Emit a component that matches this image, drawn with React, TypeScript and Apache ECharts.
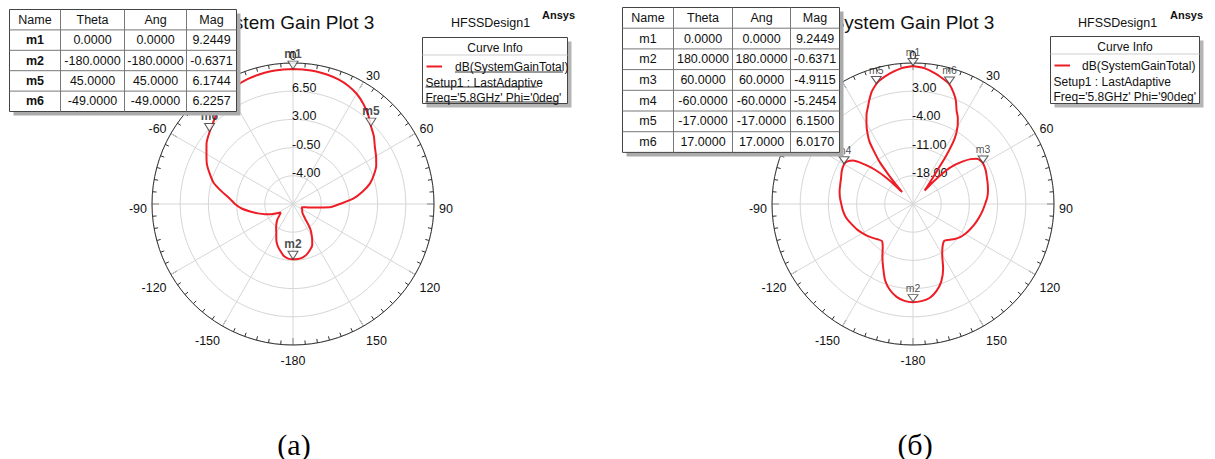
import { useEffect, useRef } from 'react';
import * as echarts from 'echarts';

const FONT = '"Liberation Sans", Arial, sans-serif';

// ---------- Plot (а): Phi = 0deg ----------
const thetaA = [
  -180, -175, -170, -165, -160, -155, -150, -145, -140, -135, -130, -125, -120, -115, -110, -105, -100, -95,
  -90, -85, -80, -75, -70, -65, -60, -55, -50, -45, -40, -35, -30, -25, -20, -15, -10, -5,
  0, 5, 10, 15, 20, 25, 30, 35, 40, 45, 50, 55, 60, 65, 70, 75, 80, 85,
  90, 95, 100, 105, 110, 115, 120, 125, 130, 135, 140, 145, 150, 155, 160, 165, 170, 175,
];
const gainA = [
  -0.637, -0.7, -0.95, -1.45, -1.95, -2.6, -3.35, -3.85, -4.3, -4.75, -5.3, -5.65, -5.2, -4.5, -3.8, -3.0, -2.1, -1.1,
  -0.3, 0.4, 1.5, 2.7, 3.5, 4.3, 4.9, 5.6, 6.1, 6.6, 7.2, 7.8, 8.4, 8.8, 9.0, 9.1, 9.2, 9.23,
  9.2449, 9.23, 9.2, 9.1, 8.95, 8.7, 8.3, 7.7, 7.0, 6.1744, 5.6, 4.9, 4.4, 3.9, 3.2, 2.4, 1.25, 0.0,
  -1.7, -2.9, -5.0, -5.9, -6.3, -6.3, -6.2, -6.1, -6.0, -5.8, -5.2, -3.8, -2.8, -1.85, -1.4, -1.0, -0.75, -0.65,
];
const markNamesA = ['m1', 'm2', 'm5', 'm6'];
const markThetaA = [0, -180, 45, -49];
const markMagA = [9.2449, -0.6371, 6.1744, 6.2257];

// ---------- Plot (б): Phi = 90deg ----------
const thetaB = [
  -180, -175, -170, -165, -160, -155, -150, -145, -140, -135, -130, -125, -120, -115, -110, -105, -100, -95,
  -90, -85, -80, -75, -70, -65, -60, -57, -54, -52, -50, -48, -46, -44, -42.5, -41, -40, -38.5,
  -37, -35, -32.5, -30, -27.5, -25, -22.5, -20, -17, -15, -10, -5,
  0, 5, 10, 15, 17, 20, 22.5, 25, 27.5, 30, 32.5, 34.5, 36, 38, 40, 41, 42.3, 44.7, 47, 49.5, 52, 54.5, 57,
  60, 65, 70, 75, 80, 85, 90, 95, 100, 105, 110, 115, 120, 125, 130, 135, 140, 145, 150, 155, 160, 165, 170, 175,
];
const gainB = [
  -0.637, -0.85, -1.6, -2.9, -4.8, -7.5, -9.8, -11.9, -13.0, -12.6, -11.9, -11.2, -10.5, -9.8, -9.2, -8.5, -7.9, -7.5,
  -7.2, -6.8, -6.5, -6.3, -6.0, -5.5, -5.2454, -5.6, -6.6, -8.2, -10.2, -12.3, -15.0, -18.5, -21.0, -18.0, -15.8, -11.8,
  -9.5, -6.2, -3.9, -1.9, 0.0, 1.5, 3.2, 4.8, 6.15, 6.8, 7.9, 8.8,
  9.2449, 8.8, 7.8, 6.6, 6.017, 4.4, 2.8, 0.6, -0.9, -2.9, -5.76, -10.4, -15.0, -18.0, -20.0, -20.6, -17.6, -13.2, -10.8, -8.7, -6.9, -5.66, -5.1,
  -4.9115, -5.1, -5.5, -5.8, -6.1, -6.5, -7.1, -7.6, -8.1, -8.6, -9.1, -9.6, -10.1, -10.7, -11.5, -12.4, -13.0, -12.2, -10.5, -7.3, -4.5, -2.6, -1.3, -0.8,
];
const markNamesB = ['m1', 'm2', 'm3', 'm4', 'm5', 'm6'];
const markThetaB = [0, 180, 60, -60, -17, 17];
const markMagB = [9.2449, -0.6371, -4.9115, -5.2454, 6.15, 6.017];

// radial scales (dB): min, max, step
const radialA = [-7.5, 10, 3.5];
const radialB = [-25, 10, 7];

const tableHeader = ['Name', 'Theta', 'Ang', 'Mag'];
const curveName = 'dB(SystemGainTotal)';
const setupName = 'Setup1 : LastAdaptive';
const freqA = "Freq='5.8GHz' Phi='0deg'";
const freqB = "Freq='5.8GHz' Phi='90deg'";
const plotTitle = 'System Gain Plot 3';
const designName = 'HFSSDesign1';
const captions = ['(а)', '(б)'];

const CENTERS = [[293, 204], [913, 204]];
const R = 141;

const toAxisAngle = (t: number) => (t < 0 ? t + 360 : t);

function curveData(theta: number[], gain: number[]) {
  const pts = theta.map((t, i) => [gain[i], toAxisAngle(t)]).sort((a, b) => a[1] - b[1]);
  pts.push([pts[0][0], 360]);
  return pts;
}

function angleAxis(idx: number) {
  return {
    polarIndex: idx,
    type: 'value',
    min: 0,
    max: 360,
    interval: 30,
    startAngle: 90,
    clockwise: true,
    axisLine: { show: true, lineStyle: { color: '#333', width: 1 } },
    axisTick: { show: true, inside: true, length: 7, lineStyle: { color: '#333' } },
    minorTick: { show: true, splitNumber: 6, length: 4, lineStyle: { color: '#333' } },
    splitLine: { show: true, lineStyle: { color: '#d6d6d6', width: 1 } },
    axisLabel: { show: false },
  };
}

// label-only angle axis (drawn on a polar shifted slightly down, as in the reference)
function angleLabelAxis(idx: number) {
  return {
    polarIndex: idx,
    type: 'value',
    min: 0,
    max: 360,
    interval: 30,
    startAngle: 90,
    clockwise: true,
    axisLine: { show: false },
    axisTick: { show: false },
    splitLine: { show: false },
    axisLabel: {
      margin: 5,
      fontSize: 12.5,
      fontFamily: FONT,
      color: '#111',
      formatter: (v: number) => (v >= 360 ? '' : String(v >= 180 ? v - 360 : v)),
    },
  };
}

function radiusAxis(idx: number, r: number[]) {
  return {
    polarIndex: idx,
    type: 'value',
    min: r[0],
    max: r[1],
    interval: r[2],
    axisLine: { show: false },
    axisTick: { show: false },
    splitLine: { show: true, lineStyle: { color: '#d6d6d6', width: 1 } },
    axisLabel: {
      show: true,
      showMinLabel: false,
      showMaxLabel: false,
      margin: 1,
      align: 'left',
      verticalAlign: 'bottom',
      lineHeight: 6,
      fontSize: 12.5,
      fontFamily: FONT,
      color: '#111',
      formatter: (v: number) => v.toFixed(2),
    },
  };
}

function hiddenRadius(idx: number, r: number[]) {
  return {
    polarIndex: idx,
    type: 'value',
    min: r[0],
    max: r[1],
    interval: r[2],
    show: false,
    axisLine: { show: false },
    axisTick: { show: false },
    axisLabel: { show: false },
    splitLine: { show: false },
  };
}

function markerSeries(idx: number, names: string[], theta: number[], mag: number[], big: boolean) {
  return {
    type: 'scatter',
    coordinateSystem: 'polar',
    polarIndex: idx,
    symbol: 'triangle',
    symbolRotate: 180,
    symbolSize: big ? [10, 8] : [10, 7],
    symbolOffset: [0, -4],
    itemStyle: { color: '#fff', borderColor: '#333', borderWidth: 1 },
    label: {
      show: true,
      position: 'top',
      distance: 1,
      formatter: '{b}',
      fontSize: big ? 12 : 10.5,
      fontWeight: big ? 'bold' : 'normal',
      fontFamily: FONT,
      color: '#222',
    },
    z: 5,
    data: names.map((n, i) => ({ name: n, value: [mag[i], toAxisAngle(theta[i])] })),
  };
}

function txt(x: number, y: number, text: string, opts: any = {}) {
  return {
    type: 'text',
    x,
    y,
    z: opts.z ?? 103,
    style: {
      text,
      fontSize: opts.fontSize ?? 12.5,
      fontFamily: opts.fontFamily ?? FONT,
      fontWeight: opts.fontWeight ?? 'normal',
      fill: opts.fill ?? '#111',
      align: opts.align ?? 'left',
      verticalAlign: 'middle',
    },
  };
}

function line(x1: number, y1: number, x2: number, y2: number, stroke: string, lineWidth = 1, z = 102) {
  return { type: 'line', z, shape: { x1, y1, x2, y2 }, style: { stroke, lineWidth } };
}

function tableEls(x0: number, y0: number, colW: number[], rowH: number, names: string[], theta: number[], mag: number[], boldName: boolean) {
  const els: any[] = [];
  const W = colW.reduce((a, b) => a + b, 0);
  const nRows = names.length + 1;
  const H = rowH * nRows;
  els.push({ type: 'rect', z: 100, shape: { x: x0 + 4, y: y0 + 4, width: W, height: H }, style: { fill: '#ababab' } });
  els.push({ type: 'rect', z: 101, shape: { x: x0, y: y0, width: W, height: H }, style: { fill: '#fff', stroke: '#444', lineWidth: 1 } });
  let cx = x0;
  const centers: number[] = [];
  colW.forEach((w, i) => {
    centers.push(cx + w / 2);
    cx += w;
    if (i < colW.length - 1) els.push(line(cx, y0, cx, y0 + H, '#777'));
  });
  for (let r = 1; r < nRows; r++) els.push(line(x0, y0 + rowH * r, x0 + W, y0 + rowH * r, '#777'));
  tableHeader.forEach((h, i) => els.push(txt(centers[i], y0 + rowH / 2, h, { align: 'center' })));
  names.forEach((n, r) => {
    const y = y0 + rowH * (r + 1.5);
    const cells = [n, theta[r].toFixed(4), theta[r].toFixed(4), mag[r].toFixed(4)];
    cells.forEach((c, i) =>
      els.push(txt(centers[i], y, c, { align: 'center', fontWeight: i === 0 && boldName ? 'bold' : 'normal' }))
    );
  });
  return els;
}

function legendEls(x0: number, y0: number, w: number, h: number, freq: string, underline: boolean, lineEnd: number, curveX: number) {
  const els: any[] = [];
  els.push({ type: 'rect', z: 100, shape: { x: x0 + 4, y: y0 + 4, width: w, height: h }, style: { fill: '#b5b5b5' } });
  els.push({ type: 'rect', z: 101, shape: { x: x0, y: y0, width: w, height: h }, style: { fill: '#fff', stroke: '#444', lineWidth: 1 } });
  els.push(txt(x0 + w / 2, y0 + 10, 'Curve Info', { align: 'center', fontSize: 12 }));
  els.push(line(x0, y0 + 17.5, x0 + w, y0 + 17.5, '#cfcfcf'));
  els.push(line(x0 + 4, y0 + 29, lineEnd, y0 + 29, '#ee1c24', 2));
  els.push(txt(curveX, y0 + 29, curveName, { fontSize: 12 }));
  els.push(txt(x0 + 3, y0 + 45, setupName, { fontSize: 12 }));
  els.push(txt(x0 + 3, y0 + 60, freq, { fontSize: 12 }));
  if (underline) {
    els.push(line(curveX, y0 + 34.5, curveX + 108, y0 + 34.5, '#333'));
    els.push(line(x0 + 3, y0 + 49.5, x0 + 115, y0 + 49.5, '#333'));
    els.push(line(x0 + 3, y0 + 64.5, x0 + 135, y0 + 64.5, '#333'));
  }
  return els;
}

export default function App() {
  const ref = useRef<HTMLDivElement>(null);
  useEffect(() => {
    if (!ref.current) return;
    const chart = echarts.init(ref.current, undefined, { renderer: 'svg' });
    const graphics: any[] = [
      txt(293, 22, plotTitle, { align: 'center', fontSize: 19, z: 50 }),
      txt(913, 22, plotTitle, { align: 'center', fontSize: 19, z: 50 }),
      txt(451, 23, designName, { fontSize: 12.5, z: 50 }),
      txt(1078, 23, designName, { fontSize: 12.5, z: 50 }),
      txt(542, 15, 'Ansys', { fontSize: 11, fontWeight: 'bold', z: 50 }),
      txt(1170, 15, 'Ansys', { fontSize: 11, fontWeight: 'bold', z: 50 }),
      txt(294, 444, captions[0], { align: 'center', fontSize: 30, fontFamily: '"Liberation Serif", "Times New Roman", serif', fill: '#000', z: 50 }),
      txt(915, 444, captions[1], { align: 'center', fontSize: 30, fontFamily: '"Liberation Serif", "Times New Roman", serif', fill: '#000', z: 50 }),
      ...tableEls(9.5, 9.5, [51, 64, 62, 50], 20.4, markNamesA, markThetaA, markMagA, true),
      ...tableEls(622.5, 7.5, [51, 59, 58, 49], 20.7, markNamesB, markThetaB, markMagB, false),
      ...legendEls(422.5, 37.5, 145, 66, freqA, true, 442, 455),
      ...legendEls(1050.5, 36.5, 149, 67, freqB, false, 1070, 1082),
    ];
    chart.setOption({
      animation: false,
      backgroundColor: '#fff',
      polar: [
        { center: CENTERS[0], radius: R },
        { center: CENTERS[1], radius: R },
        { center: [CENTERS[0][0], CENTERS[0][1] + 4.5], radius: R },
        { center: [CENTERS[1][0], CENTERS[1][1] + 4.5], radius: R },
      ],
      angleAxis: [angleAxis(0), angleAxis(1), angleLabelAxis(2), angleLabelAxis(3)],
      radiusAxis: [radiusAxis(0, radialA), radiusAxis(1, radialB), hiddenRadius(2, radialA), hiddenRadius(3, radialB)],
      series: [
        {
          type: 'line',
          coordinateSystem: 'polar',
          polarIndex: 0,
          showSymbol: false,
          smooth: 0.25,
          lineStyle: { color: '#ee1c24', width: 2 },
          z: 3,
          data: curveData(thetaA, gainA),
        },
        {
          type: 'line',
          coordinateSystem: 'polar',
          polarIndex: 1,
          showSymbol: false,
          smooth: 0.25,
          lineStyle: { color: '#ee1c24', width: 2 },
          z: 3,
          data: curveData(thetaB, gainB),
        },
        markerSeries(0, markNamesA, markThetaA, markMagA, true),
        markerSeries(1, markNamesB, markThetaB, markMagB, false),
      ],
      graphic: { elements: graphics },
    });
    return () => chart.dispose();
  }, []);
  return (
    <div
      ref={ref}
      style={{ position: 'fixed', left: 0, top: 0, width: 1215, height: 459, background: '#fff' }}
    />
  );
}
